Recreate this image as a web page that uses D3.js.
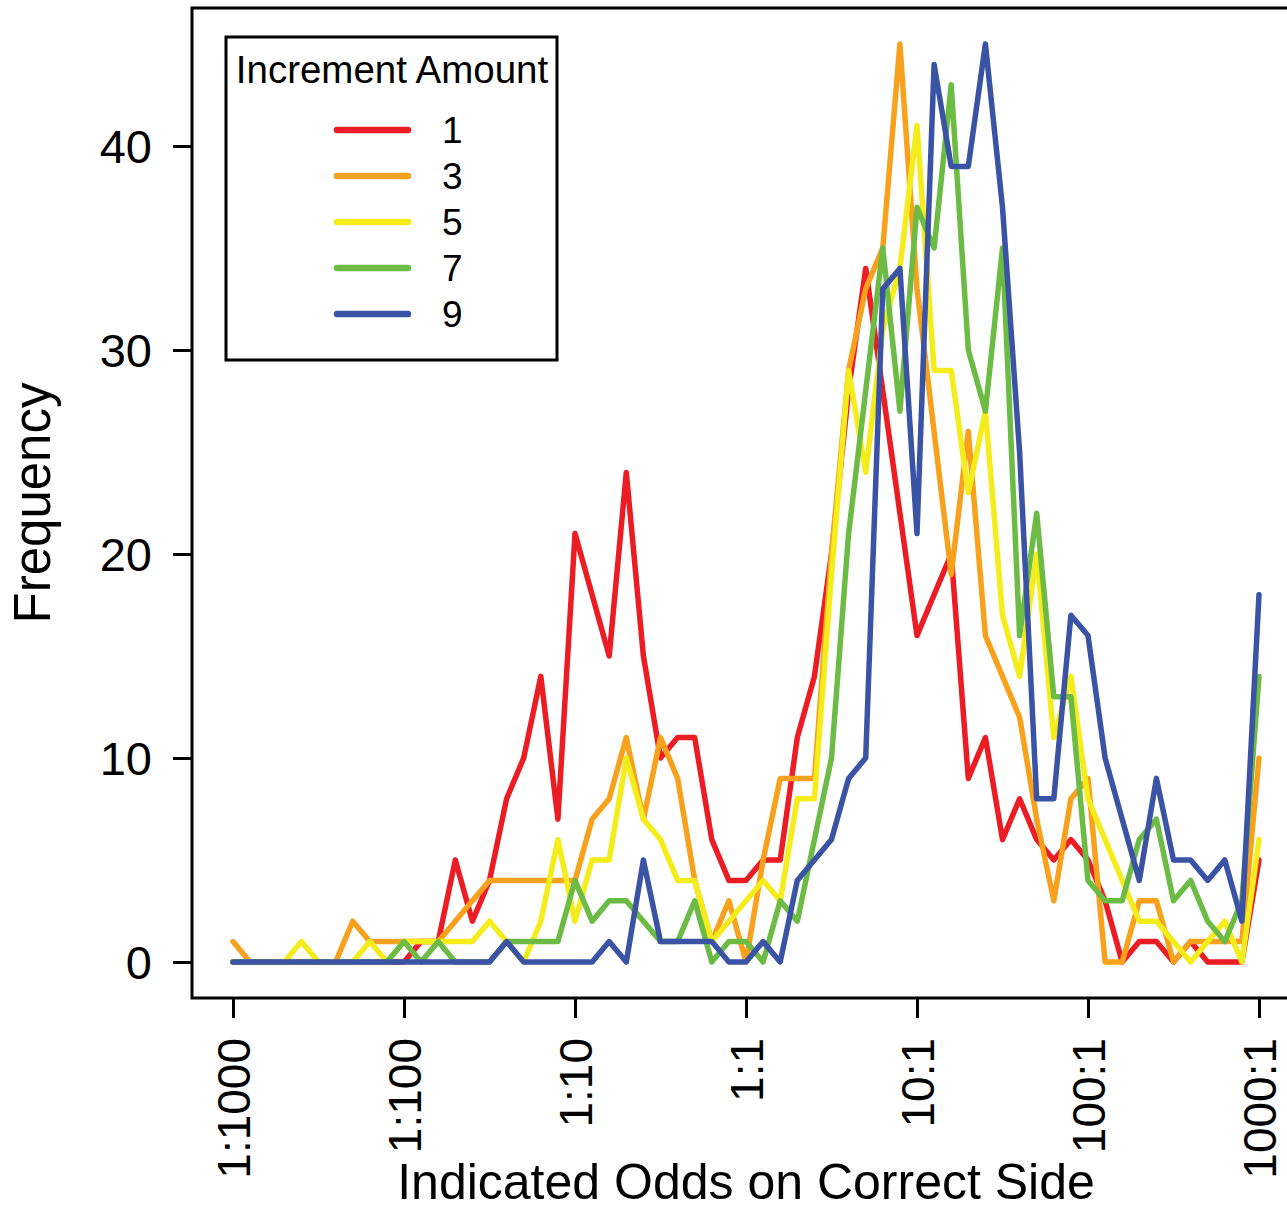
<!DOCTYPE html>
<html>
<head>
<meta charset="utf-8">
<script src="https://cdn.jsdelivr.net/npm/d3@7/dist/d3.min.js"></script>
<style>
  html, body { margin: 0; padding: 0; background: #ffffff; }
  svg { display: block; font-family: "Liberation Sans", Arial, Helvetica, sans-serif; }
</style>
</head>
<body>
<svg id="chart" width="1287" height="1209"></svg>
<script>
// Bins are spaced 0.1 decade apart on the odds axis, from 1:1000 to 1000:1.
const binExponents = d3.range(-30, 31).map(k => k / 10);

const incrementLevels = ["1", "3", "5", "7", "9"];
const seriesColors = ["#ec1c24", "#f7a11c", "#f5ec1b", "#6cbb45", "#3a53a4"];

const freqInc1 = [0,0,0,0,0,0,0,0,0,0,0, 1,1,5,2,4,8,10,14,7,21, 18,15,24,15,10,11,11,6,4,4,
                  5,5,11,14,20,28,34,28,22,16, 18,20,9,11,6,8,6,5,6,5, 3,0,1,1,0,1,0,0,0,5];
const freqInc3 = [1,0,0,0,0,0,0,2,1,1,1, 1,1,2,3,4,4,4,4,4,4, 7,8,11,7,11,9,4,1,3,0,
                  5,9,9,9,20,29,33,35,45,33, 26,19,26,16,14,12,7,3,8,9, 0,0,3,3,0,1,1,1,1,10];
const freqInc5 = [0,0,0,0,1,0,0,0,1,0,1, 1,1,1,1,2,1,0,2,6,2, 5,5,10,7,6,4,4,1,2,3,
                  4,3,8,8,19,29,24,31,34,41, 29,29,23,27,17,14,20,11,14,8, 6,4,2,2,1,0,1,2,0,6];
const freqInc7 = [0,0,0,0,0,0,0,0,0,0,1, 0,1,0,0,0,1,1,1,1,4, 2,3,3,2,1,1,3,0,1,1,
                  0,3,2,6,10,21,28,35,27,37, 35,43,30,27,35,16,22,13,13,4, 3,3,6,7,3,4,2,1,3,14];
const freqInc9 = [0,0,0,0,0,0,0,0,0,0,0, 0,0,0,0,0,1,0,0,0,0, 0,1,0,5,1,1,1,1,0,0,
                  1,0,4,5,6,9,10,33,34,21, 44,39,39,45,37,25,8,8,17,16, 10,7,4,9,5,5,4,5,2,18];

const allSeries = [freqInc1, freqInc3, freqInc5, freqInc7, freqInc9];

const oddsTickValues = [1e-3, 1e-2, 1e-1, 1, 10, 100, 1000];
const oddsTickLabels = ["1:1000", "1:100", "1:10", "1:1", "10:1", "100:1", "1000:1"];
const freqTickValues = [0, 10, 20, 30, 40];

const svg = d3.select("#chart");
svg.append("rect").attr("width", 1287).attr("height", 1209).attr("fill", "#ffffff");

// Plot region (R-style: 4% padding around the data range)
const box = { left: 192, top: 8, right: 1300, bottom: 998 };

const x = d3.scaleLog().domain([1e-3, 1e3]).range([233, 1259]);
const y = d3.scaleLinear().domain([0, 40]).range([962, 146]);

const line = d3.line()
  .x((d, i) => x(Math.pow(10, binExponents[i])))
  .y(d => y(d));

const plot = svg.append("g");
allSeries.forEach((vals, k) => {
  plot.append("path")
    .datum(vals)
    .attr("d", line)
    .attr("fill", "none")
    .attr("stroke", seriesColors[k])
    .attr("stroke-width", 5.5)
    .attr("stroke-linejoin", "round")
    .attr("stroke-linecap", "round");
});

// Frame
svg.append("rect")
  .attr("x", box.left).attr("y", box.top)
  .attr("width", box.right - box.left).attr("height", box.bottom - box.top)
  .attr("fill", "none").attr("stroke", "#000").attr("stroke-width", 3);

// Y axis
const yAxis = svg.append("g")
  .attr("transform", `translate(${box.left},0)`)
  .call(d3.axisLeft(y).tickValues(freqTickValues).tickSize(19).tickPadding(21));
yAxis.select(".domain").remove();
yAxis.selectAll(".tick line").attr("stroke", "#000").attr("stroke-width", 3);
yAxis.selectAll(".tick text")
  .attr("fill", "#000")
  .style("font-size", "47px")
  .attr("dy", "0.36em");

// X axis
const xAxis = svg.append("g")
  .attr("transform", `translate(0,${box.bottom})`)
  .call(d3.axisBottom(x).tickValues(oddsTickValues)
    .tickFormat((d, i) => oddsTickLabels[i]).tickSize(20));
xAxis.select(".domain").remove();
xAxis.selectAll(".tick line").attr("stroke", "#000").attr("stroke-width", 3);
xAxis.selectAll(".tick text")
  .attr("fill", "#000")
  .style("font-size", "46px")
  .attr("text-anchor", "end")
  .attr("transform", "rotate(-90)")
  .attr("x", -40)
  .attr("y", 0)
  .attr("dy", "0.36em");

// Axis titles
svg.append("text")
  .attr("x", 746).attr("y", 1199)
  .attr("text-anchor", "middle")
  .style("font-size", "50px")
  .text("Indicated Odds on Correct Side");

svg.append("text")
  .attr("transform", "translate(50,503) rotate(-90)")
  .attr("text-anchor", "middle")
  .style("font-size", "51px")
  .text("Frequency");

// Legend
const legend = svg.append("g");
legend.append("rect")
  .attr("x", 226).attr("y", 37).attr("width", 331).attr("height", 323)
  .attr("fill", "#fff").attr("stroke", "#000").attr("stroke-width", 3);
legend.append("text")
  .attr("x", 392).attr("y", 83)
  .attr("text-anchor", "middle")
  .style("font-size", "38.5px")
  .text("Increment Amount");
const rowY = d3.scaleLinear().domain([0, 4]).range([130, 314]);
incrementLevels.forEach((lab, k) => {
  legend.append("line")
    .attr("x1", 337).attr("x2", 408)
    .attr("y1", rowY(k)).attr("y2", rowY(k))
    .attr("stroke", seriesColors[k]).attr("stroke-width", 6.5)
    .attr("stroke-linecap", "round");
  legend.append("text")
    .attr("x", 442).attr("y", rowY(k))
    .attr("dy", "0.36em")
    .style("font-size", "37px")
    .text(lab);
});
</script>
</body>
</html>
